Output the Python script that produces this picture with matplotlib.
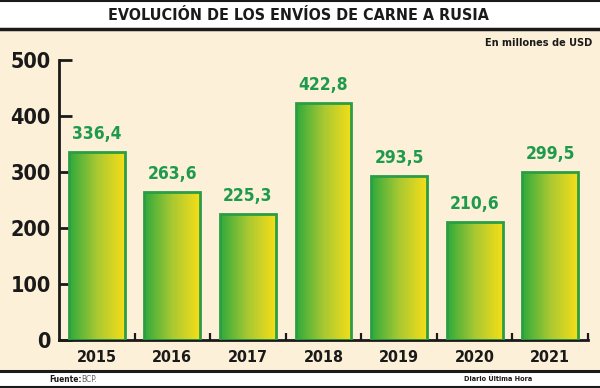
import numpy as np
import matplotlib.pyplot as plt
from matplotlib.colors import LinearSegmentedColormap
from matplotlib.lines import Line2D

years = ['2015', '2016', '2017', '2018', '2019', '2020', '2021']
values = [336.4, 263.6, 225.3, 422.8, 293.5, 210.6, 299.5]
labels = ['336,4', '263,6', '225,3', '422,8', '293,5', '210,6', '299,5']
yticks = [0, 100, 200, 300, 400, 500]

FONT = ['DejaVu Sans']
BG = '#fdf0d9'
GREEN_TXT = '#1e9a4c'

fig = plt.figure(figsize=(6, 3.88), dpi=100)
fig.patch.set_facecolor('white')

# franja beige del grafico
fig.patches.append(plt.Rectangle((0, 1 - 370 / 388), 1, (370 - 29) / 388,
                                 transform=fig.transFigure, color=BG, zorder=-5))
for yy, lw in [(1 - 1 / 388, 1.5), (1 - 29 / 388, 2.5), (1 - 371 / 388, 2.2), (1 - 386.5 / 388, 1.5)]:
    fig.add_artist(Line2D([0, 1], [yy, yy], transform=fig.transFigure, color='#1a1a1a', lw=lw))

kw = dict(family=FONT, stretch='condensed', color='#1a1a1a')
fig.text(0.497, 1 - 16 / 388, 'EVOLUCIÓN DE LOS ENVÍOS DE CARNE A RUSIA', ha='center', va='center',
         fontsize=11.5, fontweight='bold', **kw)
fig.text(592 / 600, 1 - 43 / 388, 'En millones de USD', ha='right', va='center',
         fontsize=7.8, fontweight='bold', **kw)
fig.text(49 / 600, 1 - 379 / 388, 'Fuente:', ha='left', va='center',
         fontsize=6, fontweight='bold', **kw)
fig.text(81 / 600, 1 - 379 / 388, 'BCP.', ha='left', va='center',
         fontsize=6, family=FONT, stretch='condensed', color='#666666')
fig.text(498 / 600, 1 - 379 / 388, 'Diario Última Hora', ha='center', va='center',
         fontsize=5.2, fontweight='bold', **kw)

ax = fig.add_axes([59 / 600, 1 - 340 / 388, (588 - 59) / 600, (340 - 60) / 388])
ax.set_facecolor('none')
ax.set_zorder(2)

cmap = LinearSegmentedColormap.from_list('gy', ['#2faa3c', '#a8c832', '#f7de18'])
grad = np.linspace(0, 1, 256).reshape(1, -1)
w = 0.74
x = np.arange(len(years))
bars = ax.bar(x, values, width=w, color='none', edgecolor='#2b9e44', linewidth=2, zorder=3)
for b, lab in zip(bars, labels):
    x0, h = b.get_x(), b.get_height()
    im = ax.imshow(grad, extent=[x0, x0 + w, 0, h], aspect='auto', cmap=cmap, zorder=2)
    im.set_clip_path(b)
    ax.text(x0 + w / 2, h + 16, lab, ha='center', va='bottom', fontsize=12.5,
            fontweight='bold', family=FONT, stretch='condensed', color=GREEN_TXT, clip_on=False)
ax.set_xlim(-0.5, 6.5)
ax.set_ylim(0, 500)

for s in ['top', 'right']:
    ax.spines[s].set_visible(False)
for s in ['left', 'bottom']:
    ax.spines[s].set_linewidth(2)
    ax.spines[s].set_color('#1a1a1a')

ax.set_yticks(yticks)
ax.set_yticklabels([str(v) for v in yticks], fontsize=15.5, fontweight='bold', **kw)
ax.tick_params(axis='y', direction='in', length=9, width=2, color='#1a1a1a', pad=6)

ax.set_xticks(x)
ax.set_xticklabels(years, fontsize=11.5, fontweight='bold', **kw)
ax.tick_params(axis='x', which='major', length=0, pad=7)
ax.set_xticks(np.arange(0.5, 7, 1), minor=True)
ax.tick_params(axis='x', which='minor', direction='in', length=5, width=1.6, color='#1a1a1a')

fig.savefig('out.png', dpi=100, facecolor=fig.get_facecolor())
